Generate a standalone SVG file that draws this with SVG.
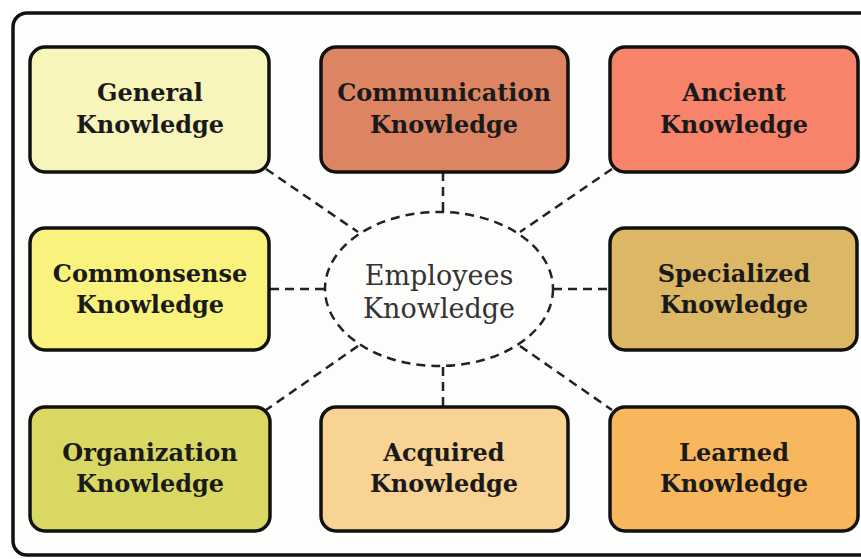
<svg xmlns="http://www.w3.org/2000/svg" width="861" height="559" viewBox="0 0 861 559">
<style>
.box{stroke:#111;stroke-width:3.5}
.lbl{font-family:"DejaVu Serif","Liberation Serif",serif;font-weight:bold;font-size:24px;fill:#1a1a1a;text-anchor:middle}
.ctr{font-family:"DejaVu Serif","Liberation Serif",serif;font-size:27px;fill:#333;text-anchor:middle}
.dash{stroke:#222;stroke-width:2.5;stroke-dasharray:9 6;fill:none}
</style>
<rect x="0" y="0" width="861" height="559" fill="#ffffff"/>
<rect x="13" y="13" width="890" height="542" rx="14" fill="#fdfdfc" stroke="#111" stroke-width="3.5"/>
<g id="connectors">
<line class="dash" x1="443" y1="172" x2="443" y2="212"/>
<line class="dash" x1="443" y1="367" x2="443" y2="407"/>
<line class="dash" x1="270" y1="289" x2="325" y2="289"/>
<line class="dash" x1="553" y1="289" x2="610" y2="289"/>
<line class="dash" x1="266" y1="169" x2="358" y2="232"/>
<line class="dash" x1="612" y1="169" x2="520" y2="232"/>
<line class="dash" x1="358" y1="346" x2="266" y2="410"/>
<line class="dash" x1="520" y1="346" x2="612" y2="410"/>
</g>
<g id="center">
<ellipse class="dash" cx="439" cy="289" rx="114" ry="77"/>
<text class="ctr" x="439" y="285">Employees</text>
<text class="ctr" x="439" y="318">Knowledge</text>
</g>
<g id="general">
<rect class="box" x="30" y="47" width="239" height="125" rx="15" fill="#f8f5bb"/>
<text class="lbl" x="150" y="101">General</text>
<text class="lbl" x="150" y="133">Knowledge</text>
</g>
<g id="communication">
<rect class="box" x="321" y="47" width="247" height="125" rx="15" fill="#dd8563"/>
<text class="lbl" x="444" y="101">Communication</text>
<text class="lbl" x="444" y="133">Knowledge</text>
</g>
<g id="ancient">
<rect class="box" x="610" y="47" width="248" height="125" rx="15" fill="#f7836a"/>
<text class="lbl" x="734" y="101">Ancient</text>
<text class="lbl" x="734" y="133">Knowledge</text>
</g>
<g id="commonsense">
<rect class="box" x="30" y="228" width="239" height="122" rx="15" fill="#f9f27c"/>
<text class="lbl" x="150" y="282">Commonsense</text>
<text class="lbl" x="150" y="313">Knowledge</text>
</g>
<g id="specialized">
<rect class="box" x="610" y="228" width="247" height="122" rx="15" fill="#dcb765"/>
<text class="lbl" x="734" y="282">Specialized</text>
<text class="lbl" x="734" y="313">Knowledge</text>
</g>
<g id="organization">
<rect class="box" x="30" y="407" width="240" height="124" rx="15" fill="#d9d862"/>
<text class="lbl" x="150" y="461">Organization</text>
<text class="lbl" x="150" y="492">Knowledge</text>
</g>
<g id="acquired">
<rect class="box" x="321" y="407" width="247" height="124" rx="15" fill="#f9d393"/>
<text class="lbl" x="444" y="461">Acquired</text>
<text class="lbl" x="444" y="492">Knowledge</text>
</g>
<g id="learned">
<rect class="box" x="610" y="407" width="248" height="124" rx="15" fill="#f8b75d"/>
<text class="lbl" x="734" y="461">Learned</text>
<text class="lbl" x="734" y="492">Knowledge</text>
</g>
</svg>
